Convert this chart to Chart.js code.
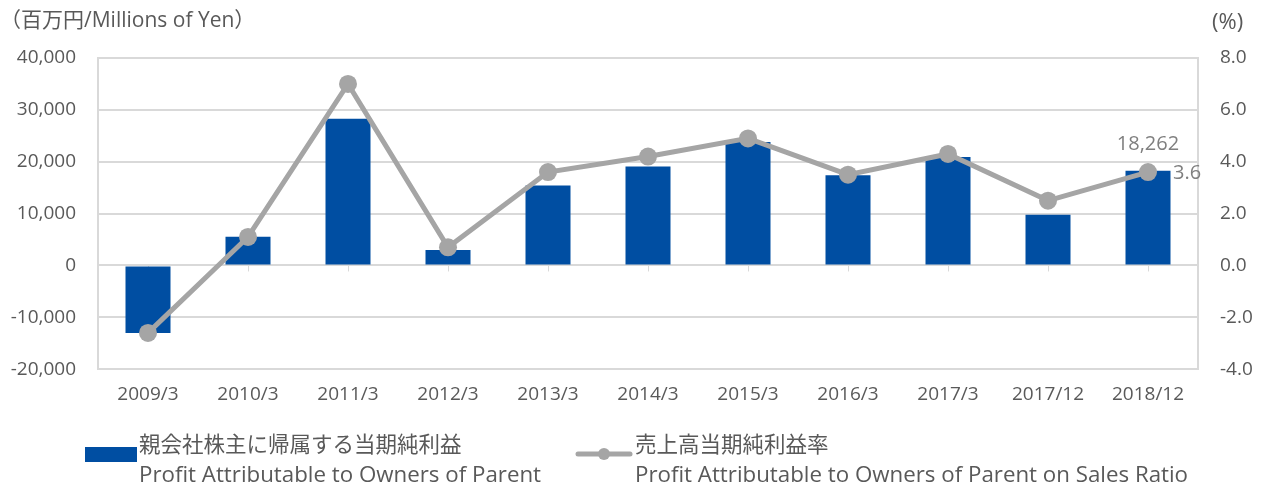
<!DOCTYPE html>
<html>
<head>
<meta charset="utf-8">
<script src="https://cdn.jsdelivr.net/npm/chart.js@4"></script>
<style>
  body { margin: 0; background: #fff; font-family: "Open Sans", "Noto Sans CJK JP", sans-serif; color: #595959; }
  #wrap { position: relative; width: 1264px; height: 484px; overflow: hidden; }
  #chart { position: absolute; left: 0; top: 0; }
  .t { position: absolute; white-space: nowrap; font-size: 21px; line-height: 1; }
  .leg { position: absolute; white-space: nowrap; line-height: 28px; }
  .jp { font-size: 21.5px; }
  .en { font-size: 22.3px; }
  .box { position: absolute; background: #004EA2; }
</style>
</head>
<body>
<div id="wrap">
  <canvas id="chart" width="1264" height="484"></canvas>
  <div class="t" style="left:0px; top:9px;">（百万円/Millions of Yen）</div>
  <div class="t" style="left:1212px; top:9px; font-size:22px;">(%)</div>

  <div class="box" style="left:85px; top:447px; width:52px; height:15px;"></div>
  <div class="leg" style="left:139px; top:430px;"><span class="jp">親会社株主に帰属する当期純利益</span><br><span class="en">Profit Attributable to Owners of Parent</span></div>

  <canvas id="legLine" width="60" height="20" style="position:absolute; left:574px; top:444px;"></canvas>
  <div class="leg" style="left:635px; top:430px;"><span class="jp">売上高当期純利益率</span><br><span class="en">Profit Attributable to Owners of Parent on Sales Ratio</span></div>
</div>
<script>
const categories = ["2009/3", "2010/3", "2011/3", "2012/3", "2013/3", "2014/3", "2015/3", "2016/3", "2017/3", "2017/12", "2018/12"];
const profit = [-13000, 5550, 28300, 3000, 15400, 19100, 23800, 17400, 20900, 9800, 18262];
const ratio = [-2.6, 1.1, 7.0, 0.7, 3.6, 4.2, 4.9, 3.5, 4.3, 2.5, 3.6];
const leftTicks = [-20000, -10000, 0, 10000, 20000, 30000, 40000];
const rightTicks = [-4.0, -2.0, 0.0, 2.0, 4.0, 6.0, 8.0];

const barColor = "#004EA2";
const lineColor = "#A5A5A5";
const textColor = "#595959";
const gridColor = "#D9D9D9";
const tickFont = { family: "'Open Sans', 'Noto Sans CJK JP', sans-serif", size: 19 };

// small tick marks on the zero line, like the Excel category axis
const zeroTicks = {
    id: "zeroTicks",
    beforeDatasetsDraw(chart) {
        const { ctx, scales } = chart;
        const y0 = scales.y.getPixelForValue(0);
        ctx.save();
        ctx.strokeStyle = gridColor;
        ctx.lineWidth = 1;
        scales.x.ticks.forEach((t, i) => {
            const x = Math.round(scales.x.getPixelForTick(i)) + 0.5;
            ctx.beginPath();
            ctx.moveTo(x, y0);
            ctx.lineTo(x, y0 + 6);
            ctx.stroke();
        });
        ctx.restore();
    }
};

// value labels for the last period
const lastLabels = {
    id: "lastLabels",
    afterDatasetsDraw(chart) {
        const { ctx } = chart;
        const last = categories.length - 1;
        const bar = chart.getDatasetMeta(1).data[last];
        const pt = chart.getDatasetMeta(0).data[last];
        ctx.save();
        ctx.fillStyle = "#7F7F7F";
        ctx.font = "20px 'Open Sans', sans-serif";
        ctx.textBaseline = "middle";
        ctx.textAlign = "center";
        ctx.fillText(profit[last].toLocaleString("en-US"), bar.x, bar.y - 26);
        ctx.textAlign = "left";
        ctx.fillText(ratio[last].toFixed(1), pt.x + 25, pt.y + 1);
        ctx.restore();
    }
};

const chart = new Chart(document.getElementById("chart"), {
    data: {
        labels: categories,
        datasets: [{
            type: "line",
            data: ratio,
            yAxisID: "y1",
            order: 0,
            borderColor: lineColor,
            backgroundColor: lineColor,
            borderWidth: 5,
            pointRadius: 9,
            pointHoverRadius: 9,
            pointBorderWidth: 0,
            tension: 0
        }, {
            type: "bar",
            data: profit,
            yAxisID: "y",
            order: 1,
            backgroundColor: barColor,
            categoryPercentage: 1,
            barPercentage: 0.45
        }]
    },
    options: {
        responsive: false,
        animation: false,
        layout: {
            padding: { top: 58, bottom: 72, left: 0, right: 0 }
        },
        plugins: {
            legend: { display: false },
            tooltip: { enabled: false }
        },
        scales: {
            x: {
                grid: { display: false },
                border: { display: false },
                ticks: { color: textColor, font: tickFont, padding: 6, maxRotation: 0 }
            },
            y: {
                position: "left",
                min: -20000,
                max: 40000,
                afterBuildTicks: axis => { axis.ticks = leftTicks.map(v => ({ value: v })); },
                afterFit: axis => { axis.width = 98; },
                grid: { color: gridColor, lineWidth: 2, drawTicks: false },
                border: { display: true, color: gridColor, width: 2 },
                ticks: {
                    color: textColor,
                    font: tickFont,
                    padding: 22,
                    callback: v => v.toLocaleString("en-US")
                }
            },
            y1: {
                position: "right",
                min: -4,
                max: 8,
                afterBuildTicks: axis => { axis.ticks = rightTicks.map(v => ({ value: v })); },
                afterFit: axis => { axis.width = 66; },
                grid: { display: false },
                border: { display: true, color: gridColor, width: 2 },
                ticks: {
                    color: textColor,
                    font: tickFont,
                    padding: 14,
                    callback: v => v.toFixed(1)
                }
            }
        }
    },
    plugins: [zeroTicks, lastLabels]
});

// line legend swatch
const lg = document.getElementById("legLine").getContext("2d");
lg.strokeStyle = lineColor;
lg.lineWidth = 5;
lg.lineCap = "round";
lg.beginPath();
lg.moveTo(4, 10);
lg.lineTo(56, 10);
lg.stroke();
lg.fillStyle = lineColor;
lg.beginPath();
lg.arc(30, 10, 6, 0, Math.PI * 2);
lg.fill();
</script>
</body>
</html>
